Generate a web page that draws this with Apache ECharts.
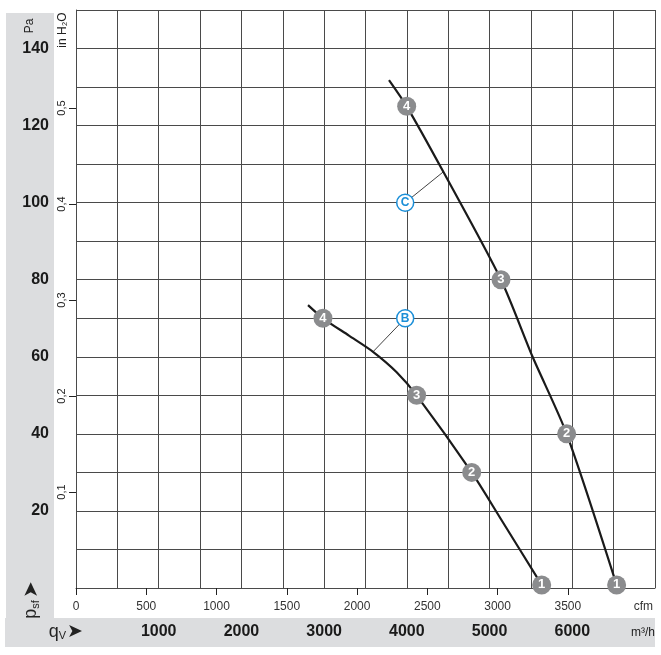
<!DOCTYPE html>
<html>
<head>
<meta charset="utf-8">
<script src="https://cdn.jsdelivr.net/npm/echarts@6/dist/echarts.min.js"></script>
<style>
  html, body { margin: 0; padding: 0; background: #fff; }
  #chart { width: 661px; height: 655px; }
</style>
</head>
<body>
<div id="chart"></div>
<script>
// flow in m3/h, static pressure in Pa
const curveB = [[2805, 73.4], [2986, 70], [3300, 65.5], [3591, 61.3], [3877, 56], [4118, 50], [4784, 30], [5125, 18.3], [5630, 0.8]]
const curveC = [[3784, 131.8], [3998, 125], [4441, 108], [5138, 80], [5520, 60], [5932, 40], [6536, 0.8]]

const pointsB = [[2986, 70, '4'], [4118, 50, '3'], [4784, 30, '2'], [5630, 0.8, '1']]
const pointsC = [[3998, 125, '4'], [5138, 80, '3'], [5932, 40, '2'], [6536, 0.8, '1']]

// curve labels and where their leader lines touch the curve
const curveLabels = [[3980, 70, 'B'], [3980, 100, 'C']]
const leaderB = [[3980, 70], [3591, 61.3]]
const leaderC = [[3980, 100], [4441, 108]]

const paLabels = [20, 40, 60, 80, 100, 120, 140]
const inH2OLabels = [0.1, 0.2, 0.3, 0.4, 0.5]
const cfmLabels = [0, 500, 1000, 1500, 2000, 2500, 3000, 3500]
const m3hLabels = [1000, 2000, 3000, 4000, 5000, 6000]

const PA_PER_INH2O = 249.0889
const M3H_PER_CFM = 1.699

const FONT = '"Liberation Sans", Arial, sans-serif'
const gridColor = '#4a4a4a'
const markerGray = '#8b8c8e'
const blue = '#1b8fd8'

const chart = echarts.init(document.getElementById('chart'))

function markerSeries(points) {
  return {
    type: 'scatter',
    xAxisIndex: 0,
    yAxisIndex: 0,
    symbol: 'circle',
    symbolSize: 19,
    z: 5,
    itemStyle: { color: markerGray, opacity: 1 },
    label: {
      show: true,
      position: 'inside',
      formatter: p => p.value[2],
      color: '#fff',
      fontWeight: 'bold',
      fontSize: 13,
      fontFamily: FONT
    },
    data: points
  }
}

function leaderSeries(pts) {
  return {
    type: 'line',
    data: pts,
    symbol: 'none',
    lineStyle: { color: '#111', width: 0.8 },
    z: 3
  }
}

const option = {
  animation: false,
  textStyle: { fontFamily: FONT },
  graphic: [
    { type: 'rect', shape: { x: 6, y: 13, width: 48, height: 606 }, style: { fill: '#dcdddf' }, z: -10 },
    { type: 'rect', shape: { x: 5, y: 618, width: 650, height: 29 }, style: { fill: '#dcdddf' }, z: -10 },
    { type: 'text', x: 30, y: 26, rotation: Math.PI / 2,
      style: { text: 'Pa', fontSize: 12, fontFamily: FONT, fill: '#222', align: 'center', verticalAlign: 'middle' } },
    { type: 'text', x: 63, y: 30, rotation: Math.PI / 2,
      style: { text: 'in H₂O', fontSize: 12, fontFamily: FONT, fill: '#222', align: 'center', verticalAlign: 'middle' } },
    { type: 'text', x: 31, y: 600, rotation: Math.PI / 2,
      style: {
        text: '{p|p}{s|sf}{a|➤}', align: 'center', verticalAlign: 'middle', fill: '#222',
        rich: {
          p: { fontSize: 18, fontFamily: FONT, fill: '#222' },
          s: { fontSize: 11, fontFamily: FONT, fill: '#222', verticalAlign: 'bottom', padding: [6, 2, 0, 0] },
          a: { fontSize: 20, fill: '#222' }
        }
      } },
    { type: 'text', x: 66, y: 632,
      style: {
        text: '{q|q}{s|V}{a|➤}', align: 'center', verticalAlign: 'middle', fill: '#222',
        rich: {
          q: { fontSize: 18, fontFamily: FONT, fill: '#222' },
          s: { fontSize: 11, fontFamily: FONT, fill: '#222', verticalAlign: 'bottom', padding: [6, 1, 0, 0] },
          a: { fontSize: 19, fill: '#222' }
        }
      } },
    { type: 'text', x: 653, y: 607,
      style: { text: 'cfm', fontSize: 12, fontFamily: FONT, fill: '#333', align: 'right', verticalAlign: 'middle' } },
    { type: 'text', x: 655, y: 633,
      style: { text: 'm³/h', fontSize: 12, fontFamily: FONT, fill: '#222', align: 'right', verticalAlign: 'middle' } }
  ],
  grid: { left: 76, top: 10, width: 579, height: 578 },
  xAxis: [
    {
      type: 'value', min: 0, max: 7000, interval: 500,
      position: 'bottom',
      axisLine: { show: false },
      axisTick: { show: false },
      splitLine: { show: true, lineStyle: { color: gridColor, width: 1 } },
      axisLabel: {
        margin: 36,
        fontSize: 16,
        fontWeight: 'bold',
        color: '#1a1a1a',
        formatter: v => (m3hLabels.includes(v) ? String(v) : '')
      }
    },
    {
      type: 'value', min: 0, max: 7000 / M3H_PER_CFM,
      position: 'bottom',
      axisLine: { show: true, lineStyle: { color: gridColor } },
      axisTick: { show: true, length: 7, customValues: cfmLabels, lineStyle: { color: '#222' } },
      splitLine: { show: false },
      axisLabel: {
        margin: 13,
        fontSize: 12,
        color: '#333',
        customValues: cfmLabels,
        formatter: v => String(v)
      }
    }
  ],
  yAxis: [
    {
      type: 'value', min: 0, max: 150, interval: 10,
      position: 'left',
      axisLine: { show: true, lineStyle: { color: gridColor } },
      axisTick: { show: false },
      splitLine: { show: true, lineStyle: { color: gridColor, width: 1 } },
      axisLabel: {
        margin: 27,
        fontSize: 16,
        fontWeight: 'bold',
        color: '#1a1a1a',
        formatter: v => (paLabels.includes(v) ? String(v) : '')
      }
    },
    {
      type: 'value', min: 0, max: 150 / PA_PER_INH2O,
      position: 'left',
      axisLine: { show: false },
      axisTick: { show: true, length: 7, customValues: inH2OLabels, lineStyle: { color: '#222' } },
      splitLine: { show: false },
      axisLabel: {
        rotate: 90,
        margin: 9,
        fontSize: 11,
        color: '#222',
        customValues: inH2OLabels,
        formatter: v => v.toFixed(1).replace('.', ',')
      }
    }
  ],
  series: [
    {
      type: 'line', data: curveB, smooth: 0.25, symbol: 'none',
      lineStyle: { color: '#1a1a1a', width: 2.2 }, z: 4
    },
    {
      type: 'line', data: curveC, smooth: 0.25, symbol: 'none',
      lineStyle: { color: '#1a1a1a', width: 2.2 }, z: 4
    },
    leaderSeries(leaderB),
    leaderSeries(leaderC),
    markerSeries(pointsB),
    markerSeries(pointsC),
    {
      type: 'scatter',
      symbol: 'circle',
      symbolSize: 17,
      z: 6,
      itemStyle: { color: '#fff', borderColor: blue, borderWidth: 1.5, opacity: 1 },
      label: {
        show: true, position: 'inside',
        formatter: p => p.value[2],
        color: blue, fontWeight: 'bold', fontSize: 12, fontFamily: FONT
      },
      data: curveLabels
    }
  ]
}

chart.setOption(option)
</script>
</body>
</html>
